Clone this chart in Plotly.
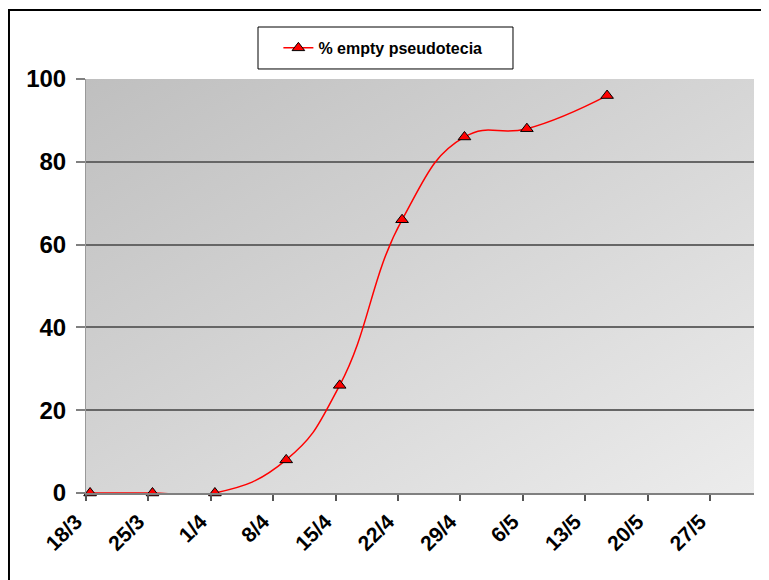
import base64
import plotly.graph_objects as go

# ---- data ----
sample_dates = ["2008-03-18 11:00", "2008-03-25 11:00", "2008-04-01 11:00",
                "2008-04-09 11:00", "2008-04-15 11:00", "2008-04-22 11:00",
                "2008-04-29 11:00", "2008-05-06 11:00", "2008-05-15 11:00"]
pct_empty = [0, 0, 0, 8, 26, 66, 86, 88, 96]
series_name = "% empty pseudotecia"

tick_dates = ["2008-03-18", "2008-03-25", "2008-04-01", "2008-04-08", "2008-04-15",
              "2008-04-22", "2008-04-29", "2008-05-06", "2008-05-13", "2008-05-20",
              "2008-05-27"]
tick_labels = ["18/3", "25/3", "1/4", "8/4", "15/4", "22/4", "29/4", "6/5", "13/5",
               "20/5", "27/5"]
y_ticks = [0, 20, 40, 60, 80, 100]

FONT = "Arial, Liberation Sans, sans-serif"

# gradient background for the plot area (SVG data URI)
svg = ('<svg xmlns="http://www.w3.org/2000/svg" width="100" height="100" '
       'preserveAspectRatio="none" viewBox="0 0 100 100">'
       '<defs><linearGradient id="g" x1="0" y1="0" x2="1" y2="1">'
       '<stop offset="0" stop-color="#bfbfbf"/>'
       '<stop offset="1" stop-color="#ececec"/>'
       '</linearGradient></defs>'
       '<rect x="0" y="0" width="100" height="100" fill="url(#g)"/></svg>')
svg_uri = "data:image/svg+xml;base64," + base64.b64encode(svg.encode()).decode()

fig = go.Figure()
fig.add_trace(go.Scatter(
    x=sample_dates, y=pct_empty, name=series_name,
    mode="lines+markers",
    line=dict(color="#ff0000", width=1.5, shape="spline", smoothing=1.3),
    marker=dict(symbol="triangle-up", size=11, color="#ff0000",
                line=dict(color="#000000", width=1)),
    cliponaxis=False,
))

# page body has an 8px margin, so the figure is 8px smaller than the window
fig.update_layout(
    width=761, height=572,
    margin=dict(l=78, r=15, t=71, b=87, autoexpand=False),
    paper_bgcolor="white",
    plot_bgcolor="rgba(0,0,0,0)",
    font=dict(family=FONT, color="black"),
    showlegend=True,
    legend=dict(x=0.288, y=1.075, xanchor="left", yanchor="middle",
                bgcolor="rgba(0,0,0,0)", borderwidth=0,
                font=dict(family=FONT, size=16, color="black", weight="bold")),
    images=[dict(source=svg_uri, xref="paper", yref="paper", x=0, y=1,
                 sizex=1, sizey=1, xanchor="left", yanchor="top",
                 sizing="stretch", layer="below")],
    shapes=[
        # outer chart border
        dict(type="rect", xref="paper", yref="paper",
             x0=-0.1153, x1=1.05, y0=-0.25, y1=1.1667,
             line=dict(color="black", width=2), fillcolor="rgba(0,0,0,0)",
             layer="above"),
        # legend box
        dict(type="rect", xref="paper", yref="paper",
             x0=0.2575, x1=0.6392, y0=1.0242, y1=1.1256,
             line=dict(color="black", width=1), fillcolor="white",
             layer="above"),
    ],
)

fig.update_xaxes(
    type="date",
    range=["2008-03-18", "2008-05-31 22:30"],
    tickmode="array", tickvals=tick_dates, ticktext=tick_labels,
    tickangle=-45,
    tickfont=dict(family=FONT, size=21, color="black", weight="bold"),
    ticks="outside", ticklen=6, tickwidth=1.5, tickcolor="#555555",
    ticklabelshift=-10, ticklabelstandoff=0,
    showline=True, linecolor="#808080", linewidth=2,
    showgrid=False, zeroline=False,
)
fig.update_yaxes(
    range=[0, 100],
    tickmode="array", tickvals=y_ticks,
    tickfont=dict(family=FONT, size=24, color="black", weight="bold"),
    ticks="outside", ticklen=9, tickwidth=1.5, tickcolor="#808080",
    ticklabelstandoff=5,
    showline=True, linecolor="#999999", linewidth=1,
    showgrid=True, gridcolor="#666666", gridwidth=1.5,
    zeroline=False,
)

fig.write_html("out.html")
